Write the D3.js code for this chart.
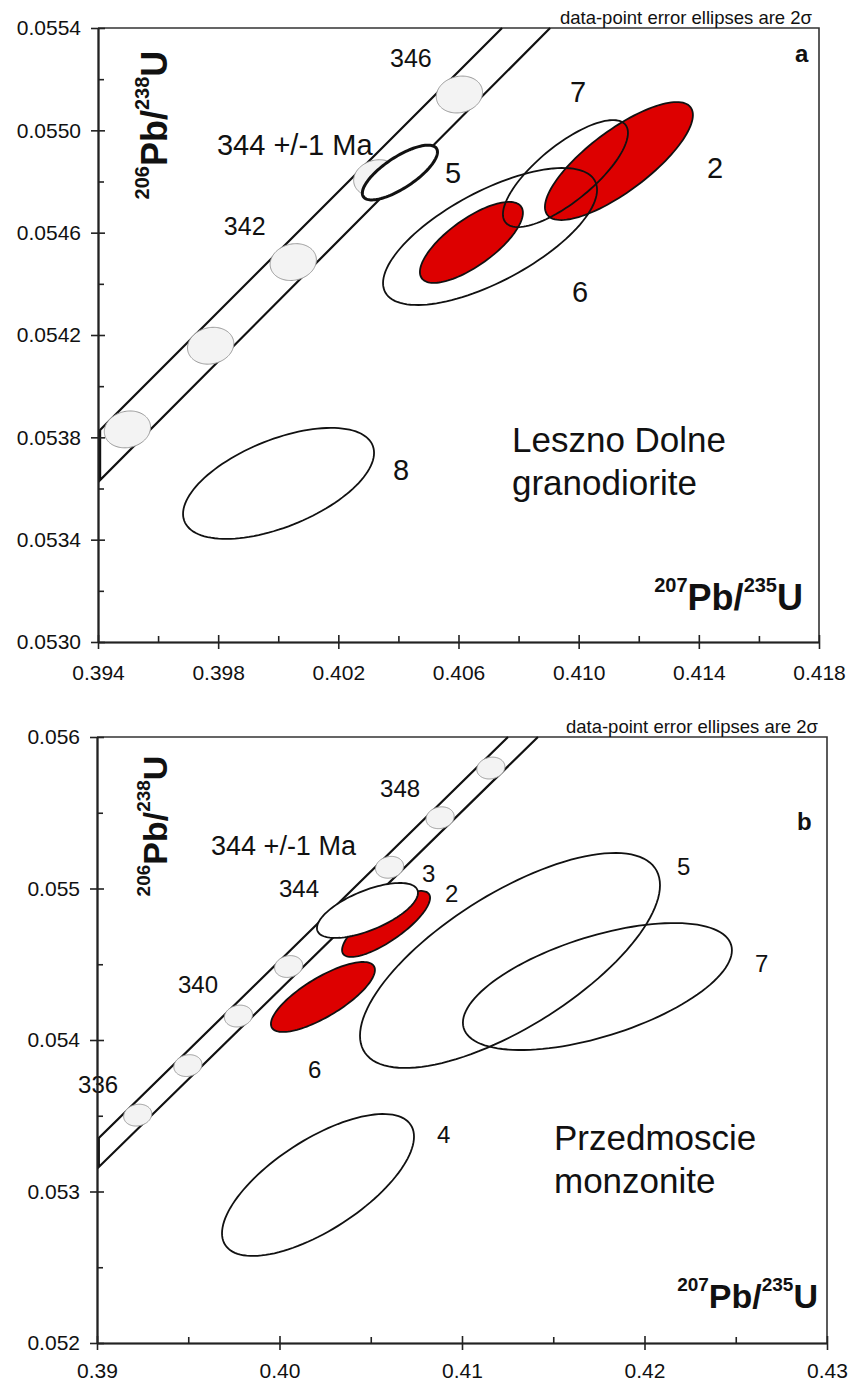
<!DOCTYPE html>
<html>
<head>
<meta charset="utf-8">
<script src="https://cdn.jsdelivr.net/npm/d3@7"></script>
<style>
  body { margin: 0; background: #fff; }
  svg { display: block; }
  text { font-family: 'Liberation Sans', Arial, Helvetica, sans-serif; fill: #111; }
</style>
</head>
<body>
<div id="chart"></div>
<script>
// ---------- panel a : Leszno Dolne granodiorite ----------
const xTicksA = [0.394, 0.398, 0.402, 0.406, 0.410, 0.414, 0.418];
const xMinorA = [0.396, 0.400, 0.404, 0.408, 0.412, 0.416];
const yTicksA = [0.0530, 0.0534, 0.0538, 0.0542, 0.0546, 0.0550, 0.0554];
const yMinorA = [0.0532, 0.0536, 0.0540, 0.0544, 0.0548, 0.0552];

// concordia error band (207/235, 206/238)
const bandUpperA = [[0.40745, 0.05540], [0.39407, 0.053829]];
const bandLowerA = [[0.39407, 0.053633], [0.40905, 0.05540]];

// age markers on concordia (Ma)
const agesA = [
    { age: 338, x: 0.39498, y: 0.053831 },
    { age: 340, x: 0.39775, y: 0.054158 },
    { age: 342, x: 0.40050, y: 0.054485 },
    { age: 344, x: 0.40328, y: 0.054813 },
    { age: 346, x: 0.40603, y: 0.055140 }
];

// error ellipses: centre, half-extents (2 sigma), correlation
const samplesA = [
    { x: 0.40643, y: 0.054562, sx: 0.001714, sy: 0.0001583, rho: 0.73 },
    { x: 0.41134, y: 0.054880, sx: 0.002463, sy: 0.0002306, rho: 0.78 }
];
const outlinesA = [
    { x: 0.40705, y: 0.054585, sx: 0.003562, sy: 0.0002678, rho: 0.68 },
    { x: 0.40956, y: 0.054831, sx: 0.002081, sy: 0.0002091, rho: 0.76 },
    { x: 0.40001, y: 0.053620, sx: 0.003179, sy: 0.0002169, rho: 0.55 }
];
const concAgeA = [{ x: 0.40405, y: 0.054835, sx: 0.00125, sy: 0.000107, rho: 0.75 }];

const labelsA = [
    { text: "346", x: 0.40372, y: 0.055248, big: false },
    { text: "344 +/-1 Ma", x: 0.39796, y: 0.054904, big: true },
    { text: "342", x: 0.39819, y: 0.054591, big: false },
    { text: "5", x: 0.40555, y: 0.054794, big: true },
    { text: "7", x: 0.40971, y: 0.055111, big: true },
    { text: "2", x: 0.41427, y: 0.054814, big: true },
    { text: "6", x: 0.40978, y: 0.054329, big: true },
    { text: "8", x: 0.40382, y: 0.053633, big: true }
];

// ---------- panel b : Przedmoscie monzonite ----------
const xTicksB = [0.39, 0.40, 0.41, 0.42, 0.43];
const xMinorB = [0.395, 0.405, 0.415, 0.425];
const yTicksB = [0.052, 0.053, 0.054, 0.055, 0.056];
const yMinorB = [0.0525, 0.0535, 0.0545, 0.0555];

const bandUpperB = [[0.41252, 0.05600], [0.39010, 0.053353]];
const bandLowerB = [[0.39010, 0.053162], [0.41416, 0.05600]];

const agesB = [
    { age: 336, x: 0.39223, y: 0.053504 },
    { age: 338, x: 0.39498, y: 0.053831 },
    { age: 340, x: 0.39775, y: 0.054158 },
    { age: 342, x: 0.40050, y: 0.054485 },
    { age: 344, x: 0.40328, y: 0.054813 },
    { age: 346, x: 0.40603, y: 0.055140 },
    { age: 348, x: 0.40880, y: 0.055467 },
    { age: 350, x: 0.41158, y: 0.055795 }
];

const samplesB = [
    { x: 0.40584, y: 0.054766, sx: 0.002411, sy: 0.0002178, rho: 0.79 },
    { x: 0.40238, y: 0.054284, sx: 0.002849, sy: 0.0002310, rho: 0.77 }
];
const outlinesB = [
    { x: 0.41263, y: 0.054525, sx: 0.008219, sy: 0.0007096, rho: 0.70 },
    { x: 0.41742, y: 0.054353, sx: 0.007370, sy: 0.0004191, rho: 0.57 },
    { x: 0.40211, y: 0.053043, sx: 0.005260, sy: 0.0004686, rho: 0.68 }
];
const concAgeB = [{ x: 0.40482, y: 0.054855, sx: 0.002767, sy: 0.0001815, rho: 0.64 }];

const labelsB = [
    { text: "348", x: 0.40551, y: 0.055604, big: false },
    { text: "344 +/-1 Ma", x: 0.39625, y: 0.055221, big: true },
    { text: "344", x: 0.39997, y: 0.054944, big: false },
    { text: "340", x: 0.39444, y: 0.054310, big: false },
    { text: "336", x: 0.38896, y: 0.053650, big: false },
    { text: "3", x: 0.40781, y: 0.055043, big: false },
    { text: "2", x: 0.40907, y: 0.054911, big: false },
    { text: "5", x: 0.42178, y: 0.055089, big: false },
    { text: "7", x: 0.42605, y: 0.054449, big: false },
    { text: "6", x: 0.40156, y: 0.053749, big: false },
    { text: "4", x: 0.40863, y: 0.053320, big: false }
];

const markerErr = { sx: 0.00077, sy: 0.000072, rho: 0.12 };


class ConcordiaPanel {
    config; data;
    width; height;
    chart; xScale; yScale;

    constructor(config, data) {
        this.config = config;
        this.data = data;
        this.configureVis();
    }

    configureVis() {
        const vis = this;
        const c = vis.config;

        vis.width = c.width;
        vis.height = c.height;

        vis.xScale = d3.scaleLinear().domain(c.xDomain).range([0, vis.width]);
        vis.yScale = d3.scaleLinear().domain(c.yDomain).range([vis.height, 0]);

        vis.chart = c.svg.append('g')
            .attr('transform', `translate(${c.left},${c.top})`);

        vis.renderVis();
    }

    // error ellipse outline from half-extents and correlation
    ellipsePath(e) {
        const vis = this;
        const n = 120;
        const k = Math.sqrt(1 - e.rho * e.rho);
        const pts = d3.range(n).map(i => {
            const t = 2 * Math.PI * i / n;
            return [
                vis.xScale(e.x + e.sx * Math.cos(t)),
                vis.yScale(e.y + e.sy * (e.rho * Math.cos(t) + k * Math.sin(t)))
            ];
        });
        return d3.line()(pts) + 'Z';
    }

    renderVis() {
        const vis = this;
        const c = vis.config;
        const d = vis.data;
        const line = d3.line().x(p => vis.xScale(p[0])).y(p => vis.yScale(p[1]));

        // frame (top and right)
        vis.chart.append('path')
            .attr('d', `M0,0H${vis.width}V${vis.height}`)
            .attr('fill', 'none')
            .attr('stroke', '#333')
            .attr('stroke-width', 1.6);

        // concordia band
        vis.chart.append('path')
            .attr('d', line(d.bandUpper.concat(d.bandLower)))
            .attr('fill', 'none')
            .attr('stroke', '#111')
            .attr('stroke-width', 2.2);

        // age markers
        vis.chart.selectAll('.age-marker')
            .data(d.ages)
            .join('path')
            .attr('class', 'age-marker')
            .attr('d', a => vis.ellipsePath(Object.assign({ x: a.x, y: a.y }, markerErr)))
            .attr('fill', '#f3f3f3')
            .attr('stroke', '#9a9a9a')
            .attr('stroke-width', 1);

        // analyses
        vis.chart.selectAll('.sample')
            .data(d.samples)
            .join('path')
            .attr('class', 'sample')
            .attr('d', e => vis.ellipsePath(e))
            .attr('fill', '#dd0000')
            .attr('stroke', '#111')
            .attr('stroke-width', 1.8);

        vis.chart.selectAll('.outline')
            .data(d.outlines)
            .join('path')
            .attr('class', 'outline')
            .attr('d', e => vis.ellipsePath(e))
            .attr('fill', 'none')
            .attr('stroke', '#111')
            .attr('stroke-width', 1.8);

        vis.chart.selectAll('.conc-age')
            .data(d.concAge)
            .join('path')
            .attr('class', 'conc-age')
            .attr('d', e => vis.ellipsePath(e))
            .attr('fill', '#fff')
            .attr('stroke', '#111')
            .attr('stroke-width', c.ageStroke);

        // annotations
        vis.chart.selectAll('.note')
            .data(d.labels)
            .join('text')
            .attr('class', 'note')
            .attr('x', l => vis.xScale(l.x))
            .attr('y', l => vis.yScale(l.y))
            .style('font-size', l => (l.big ? c.bigFont : c.smallFont) + 'px')
            .text(l => l.text);

        // axes: major ticks cross the axis line, minor ticks point inwards
        const xAxisG = vis.chart.append('g').attr('transform', `translate(0,${vis.height})`);
        xAxisG.append('g').call(d3.axisBottom(vis.xScale).tickValues(c.xTicks)
            .tickFormat(d3.format(c.xFormat)).tickSize(7).tickSizeOuter(0).tickPadding(c.xPad));
        xAxisG.append('g').call(d3.axisBottom(vis.xScale).tickValues(c.xTicks)
            .tickFormat('').tickSize(-7).tickSizeOuter(0));
        xAxisG.append('g').call(d3.axisBottom(vis.xScale).tickValues(c.xMinor)
            .tickFormat('').tickSize(-6).tickSizeOuter(0));

        const yAxisG = vis.chart.append('g');
        yAxisG.append('g').call(d3.axisLeft(vis.yScale).tickValues(c.yTicks)
            .tickFormat(d3.format(c.yFormat)).tickSize(7).tickSizeOuter(0).tickPadding(10));
        yAxisG.append('g').call(d3.axisLeft(vis.yScale).tickValues(c.yTicks)
            .tickFormat('').tickSize(-7).tickSizeOuter(0));
        yAxisG.append('g').call(d3.axisLeft(vis.yScale).tickValues(c.yMinor)
            .tickFormat('').tickSize(-6).tickSizeOuter(0));

        vis.chart.selectAll('.domain, .tick line')
            .attr('stroke', '#222')
            .attr('stroke-width', 1.6);
        vis.chart.selectAll('.tick text')
            .style('font-size', '21px')
            .style('font-family', "'Liberation Sans', Arial, sans-serif")
            .attr('fill', '#222');

        // header note
        vis.chart.append('text')
            .attr('x', vis.width + c.noteDx)
            .attr('y', -4)
            .style('text-anchor', 'end')
            .style('font-size', '18.5px')
            .text('data-point error ellipses are 2σ');

        // panel letter
        vis.chart.append('text')
            .attr('x', c.letterPos[0])
            .attr('y', c.letterPos[1])
            .style('font-size', '24px')
            .style('font-weight', 'bold')
            .text(c.letter);

        // rock name
        vis.chart.append('text')
            .attr('x', c.namePos[0])
            .attr('y', c.namePos[1])
            .style('font-size', '35px')
            .selectAll('tspan')
            .data(c.name)
            .join('tspan')
            .attr('x', c.namePos[0])
            .attr('dy', (t, i) => i === 0 ? 0 : 43)
            .text(t => t);

        // axis titles
        vis.isotopeTitle(vis.chart.append('text')
                .attr('x', vis.width + c.xTitleDx)
                .attr('y', vis.height + c.xTitleDy)
                .style('text-anchor', 'end'),
            ['207', 'Pb/', '235', 'U']);

        vis.isotopeTitle(vis.chart.append('text')
                .attr('transform', `translate(${c.yTitlePos[0]},${c.yTitlePos[1]}) rotate(-90)`)
                .style('text-anchor', 'middle'),
            ['206', 'Pb/', '238', 'U']);
    }

    isotopeTitle(sel, parts) {
        const c = this.config;
        parts.forEach((p, i) => {
            const sup = i % 2 === 0;
            sel.append('tspan')
                .attr('dy', sup ? -c.supShift : c.supShift)
                .style('font-size', (sup ? c.supFont : c.titleFont) + 'px')
                .style('font-weight', 'bold')
                .text(p);
        });
        sel.select('tspan').attr('dy', -this.config.supShift);
    }
}

const svg = d3.select('#chart').append('svg')
    .attr('width', 862)
    .attr('height', 1383);

new ConcordiaPanel({
    svg: svg, left: 98, top: 28, width: 721, height: 614,
    xDomain: [0.394, 0.418], yDomain: [0.0530, 0.0554],
    xTicks: xTicksA, xMinor: xMinorA, yTicks: yTicksA, yMinor: yMinorA,
    xFormat: '.3f', yFormat: '.4f', xPad: 16,
    bigFont: 29, smallFont: 25, ageStroke: 3,
    noteDx: -7, letter: 'a', letterPos: [697, 34],
    name: ['Leszno Dolne', 'granodiorite'], namePos: [414, 424],
    titleFont: 36, supFont: 20, supShift: 18,
    xTitleDx: -16, xTitleDy: -32, yTitlePos: [69, 97]
}, {
    bandUpper: bandUpperA, bandLower: bandLowerA, ages: agesA,
    samples: samplesA, outlines: outlinesA, concAge: concAgeA, labels: labelsA
});

new ConcordiaPanel({
    svg: svg, left: 97, top: 737, width: 730, height: 606,
    xDomain: [0.39, 0.43], yDomain: [0.052, 0.056],
    xTicks: xTicksB, xMinor: xMinorB, yTicks: yTicksB, yMinor: yMinorB,
    xFormat: '.2f', yFormat: '.3f', xPad: 13,
    bigFont: 27, smallFont: 24, ageStroke: 1.8,
    noteDx: -9, letter: 'b', letterPos: [700, 93],
    name: ['Przedmoscie', 'monzonite'], namePos: [457, 413],
    titleFont: 34, supFont: 19, supShift: 17,
    xTitleDx: -9, xTitleDy: -35, yTitlePos: [70, 89]
}, {
    bandUpper: bandUpperB, bandLower: bandLowerB, ages: agesB,
    samples: samplesB, outlines: outlinesB, concAge: concAgeB, labels: labelsB
});
</script>
</body>
</html>
